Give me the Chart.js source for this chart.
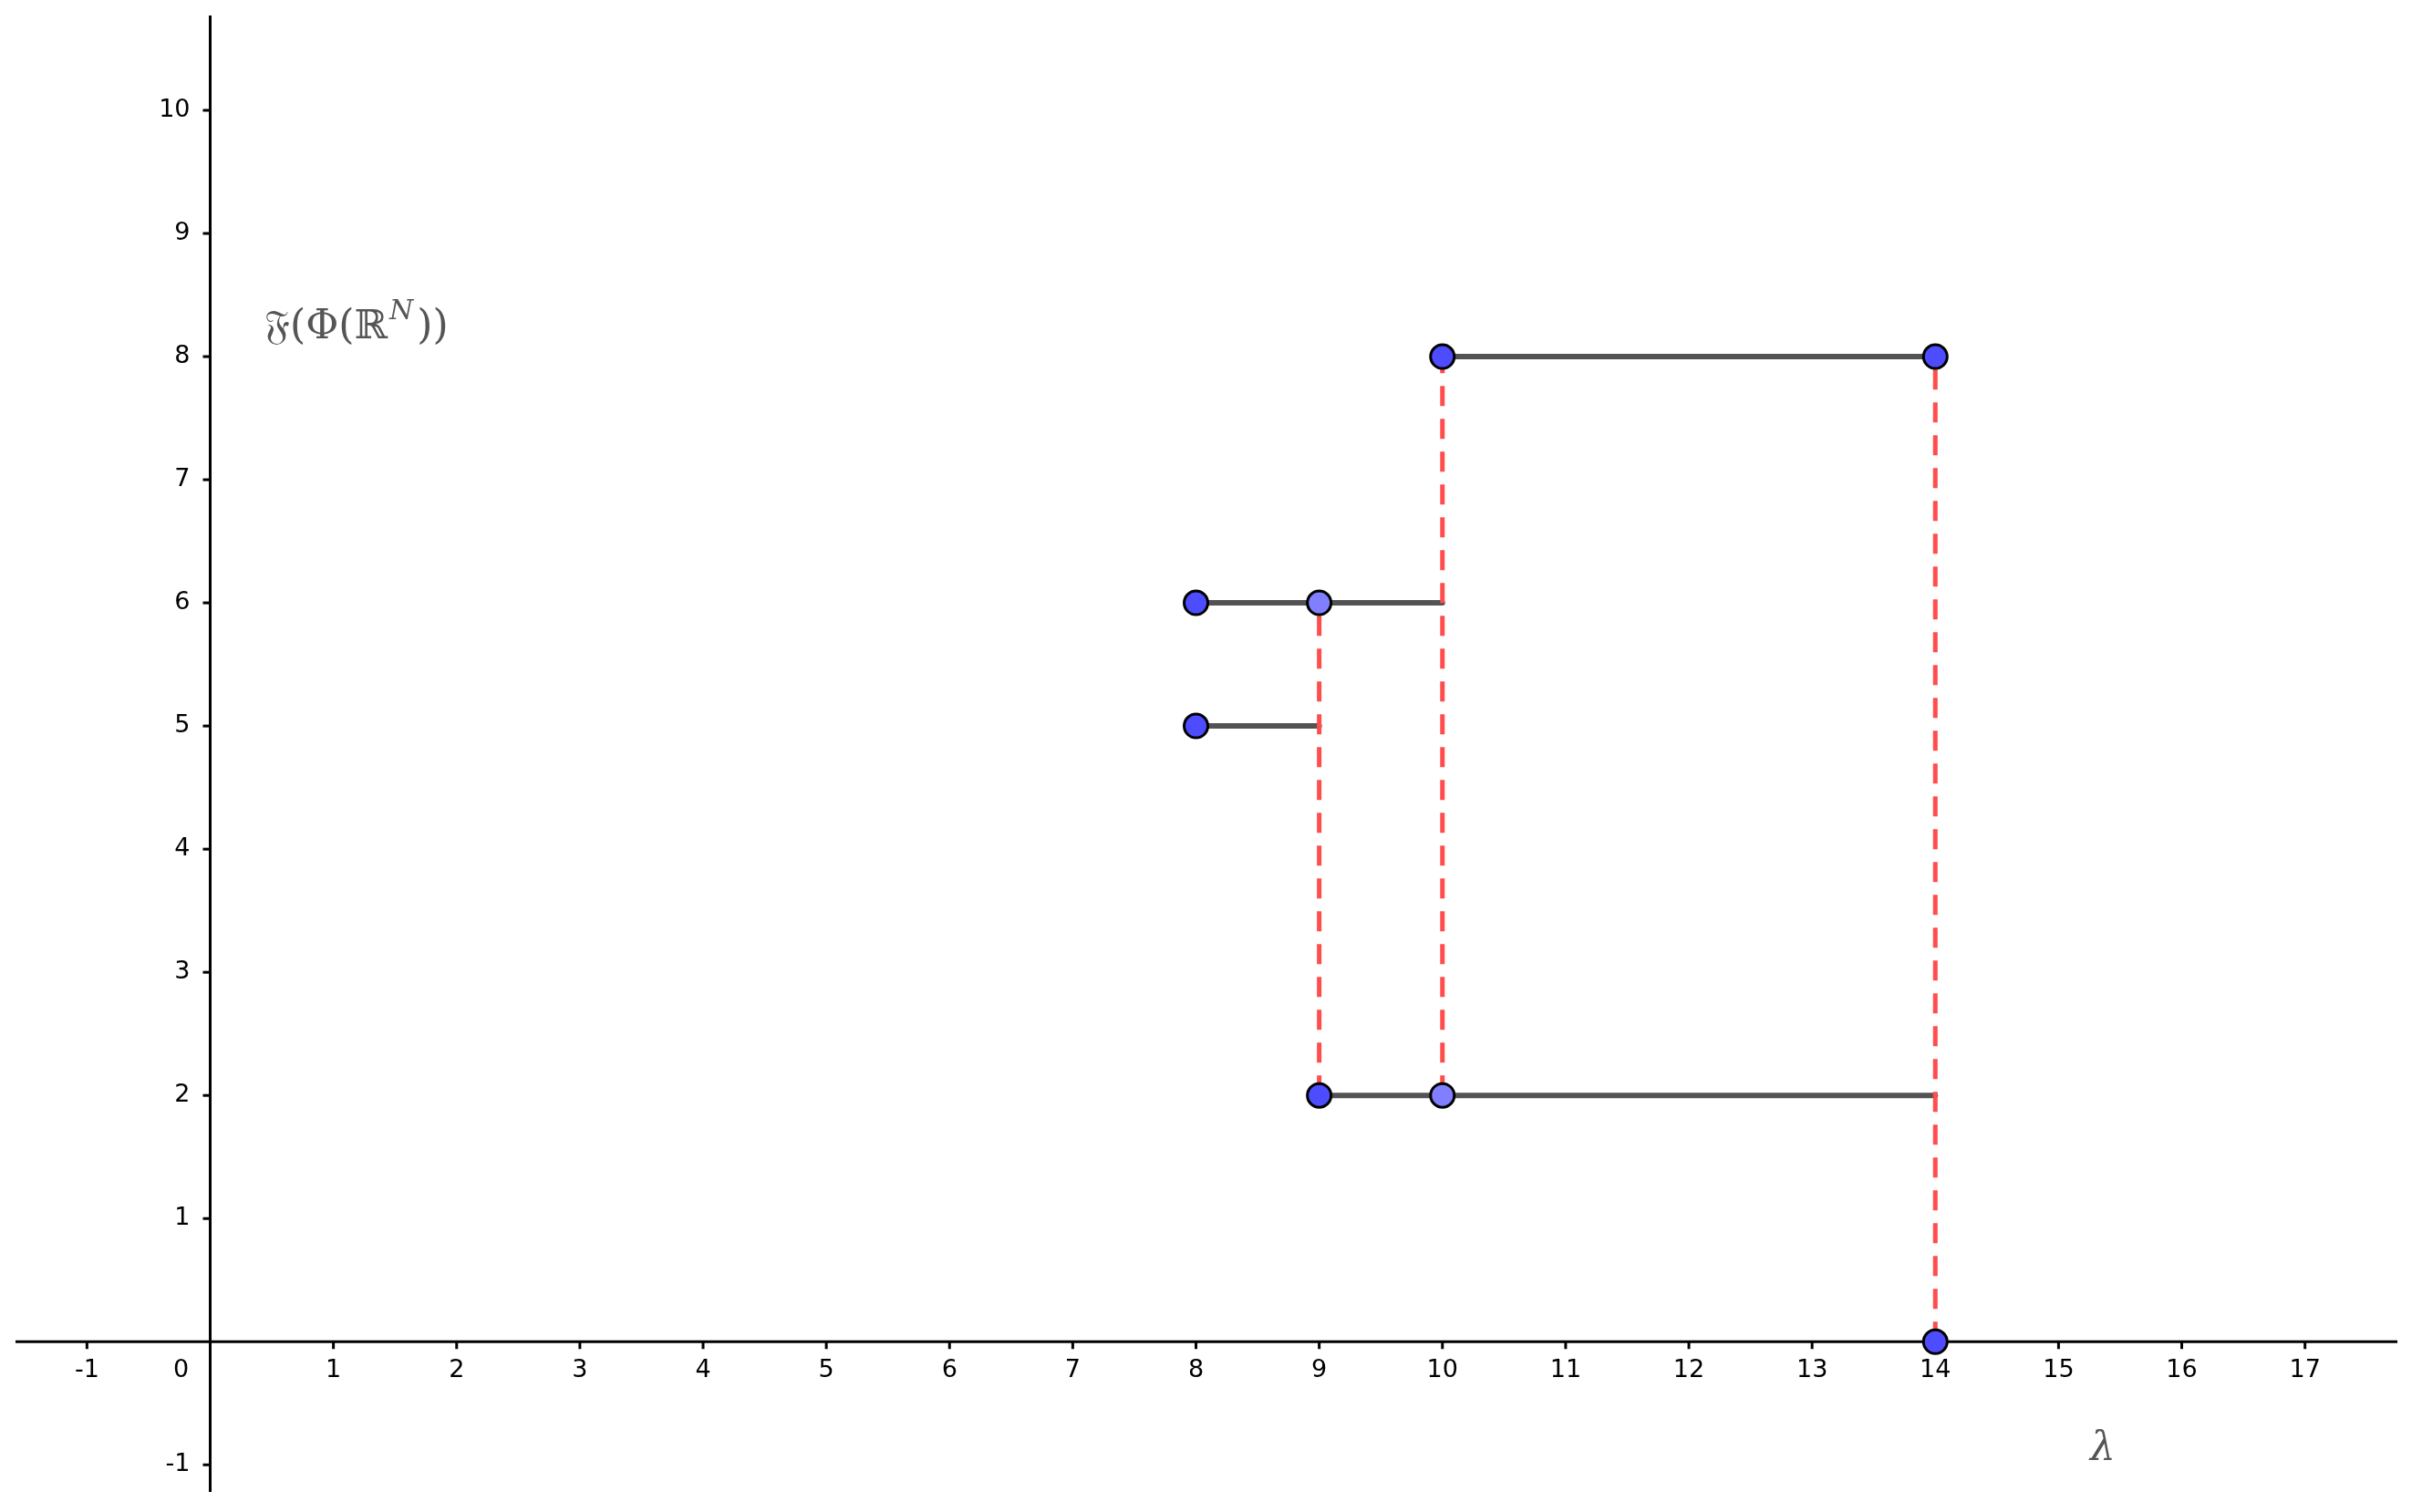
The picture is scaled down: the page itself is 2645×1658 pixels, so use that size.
<!DOCTYPE html>
<html><head><meta charset="utf-8">
<script src="https://cdn.jsdelivr.net/npm/chart.js@4"></script>
<style>html,body{margin:0;padding:0;background:#fff}#c{display:block}</style>
</head><body>
<canvas id="c" width="2645" height="1658"></canvas>
<script>
const xTicks = [-1,0,1,2,3,4,5,6,7,8,9,10,11,12,13,14,15,16,17];
const yTicks = [-1,1,2,3,4,5,6,7,8,9,10];
const blackSegments = [
  [[8,6],[10,6]],
  [[8,5],[9,5]],
  [[10,8],[14,8]],
  [[9,2],[14,2]]
];
const redSegments = [
  [[9,2],[9,6]],
  [[10,2],[10,8]],
  [[14,0],[14,8]]
];
const darkPoints = [[8,6],[8,5],[10,8],[14,8],[9,2],[14,0]];
const lightPoints = [[9,6],[10,2]];

const toXY = arr => arr.map(p => ({x:p[0], y:p[1]}));
const datasets = [];
datasets.push({type:'scatter', data:toXY(darkPoints), pointRadius:13, pointBackgroundColor:'#4d4dff', pointBorderColor:'#000', pointBorderWidth:3, order:0});
datasets.push({type:'scatter', data:toXY(lightPoints), pointRadius:13, pointBackgroundColor:'#7f7fff', pointBorderColor:'#000', pointBorderWidth:3, order:0});
blackSegments.forEach(s => datasets.push({type:'line', data:toXY(s), borderColor:'rgba(64,64,64,0.9)', borderWidth:6, pointRadius:0, borderCapStyle:'round', order:2}));
redSegments.forEach(s => datasets.push({type:'line', data:toXY(s), borderColor:'#ff4d4d', borderWidth:5, borderDash:[22,14], pointRadius:0, order:1}));

const axesPlugin = {
  id:'axes',
  beforeDatasetsDraw(chart){
    const ctx = chart.ctx, xs = chart.scales.x, ys = chart.scales.y, a = chart.chartArea;
    const x0 = xs.getPixelForValue(0), y0 = ys.getPixelForValue(0);
    ctx.save();
    ctx.strokeStyle = '#000'; ctx.lineWidth = 3;
    ctx.beginPath(); ctx.moveTo(a.left, y0); ctx.lineTo(a.right, y0); ctx.stroke();
    ctx.beginPath(); ctx.moveTo(x0, a.top); ctx.lineTo(x0, a.bottom); ctx.stroke();
    ctx.fillStyle = '#000'; ctx.font = '27px "DejaVu Sans"';
    ctx.textAlign = 'center'; ctx.textBaseline = 'middle';
    xTicks.forEach(v => {
      const px = xs.getPixelForValue(v);
      if (v !== 0) { ctx.beginPath(); ctx.moveTo(px, y0); ctx.lineTo(px, y0 + 8); ctx.stroke(); }
      ctx.fillText(String(v), v === 0 ? x0 - 32 : px, y0 + 32);
    });
    ctx.textAlign = 'right';
    yTicks.forEach(v => {
      const py = ys.getPixelForValue(v);
      ctx.beginPath(); ctx.moveTo(x0 - 8, py); ctx.lineTo(x0, py); ctx.stroke();
      ctx.fillText(String(v), x0 - 22, py);
    });
    ctx.fillStyle = '#555';
    ctx.font = '44px "DejaVu Serif"'; ctx.textAlign = 'left';
    ctx.fillText('\u{1D509}(\u03A6(\u211D', 290, 360);
    const w = ctx.measureText('\u{1D509}(\u03A6(\u211D').width;
    ctx.font = 'italic 30px "DejaVu Serif"';
    ctx.fillText('N', 290 + w + 2, 342);
    const w2 = ctx.measureText('N').width;
    ctx.font = '44px "DejaVu Serif"';
    ctx.fillText('))', 290 + w + w2 + 6, 360);
    ctx.font = 'italic 44px "DejaVu Serif"'; ctx.textAlign = 'center';
    ctx.fillText('\u03BB', 2306, 1590);
    ctx.restore();
  }
};

new Chart(document.getElementById('c'), {
  data:{datasets},
  options:{
    responsive:false, animation:false,
    layout:{padding:{left:17, right:13, top:17, bottom:22}},
    plugins:{legend:{display:false}, tooltip:{enabled:false}},
    scales:{
      x:{type:'linear', min:-1.58, max:17.75, display:false},
      y:{type:'linear', min:-1.22, max:10.77, display:false}
    }
  },
  plugins:[axesPlugin]
});
</script>
</body></html>
